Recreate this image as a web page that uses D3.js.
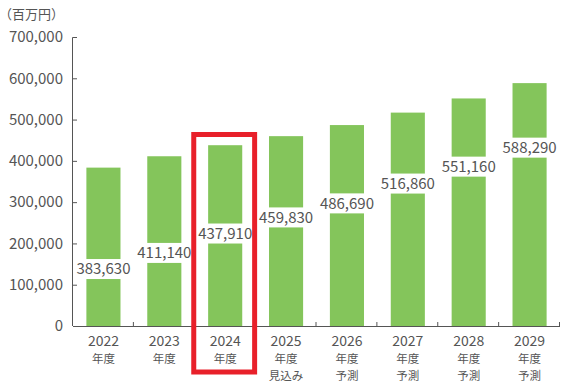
<!DOCTYPE html>
<html>
<head>
<meta charset="utf-8">
<script src="https://cdn.jsdelivr.net/npm/d3@7"></script>
<style>
	body { margin: 0; background: #fff; }
	text { font-family: "Noto Sans CJK JP", "Noto Sans", sans-serif; fill: #555; }
</style>
</head>
<body>
<script>
const years = ["2022", "2023", "2024", "2025", "2026", "2027", "2028", "2029"];
const subLabels = [["年度"], ["年度"], ["年度"], ["年度", "見込み"], ["年度", "予測"], ["年度", "予測"], ["年度", "予測"], ["年度", "予測"]];
const values = [383630, 411140, 437910, 459830, 486690, 516860, 551160, 588290];
// where the value label sits on each bar (in data units)
const labelAt = [138000, 177000, 224000, 263000, 297000, 345000, 386000, 432000];
const yTicks = [0, 100000, 200000, 300000, 400000, 500000, 600000, 700000];
const highlight = "2024";

const svgWidth = 568;
const svgHeight = 386;
const margin = { top: 37, right: 8, bottom: 60, left: 73 };
const width = svgWidth - margin.left - margin.right;
const height = svgHeight - margin.top - margin.bottom;

const svg = d3
	.select("body")
	.append("svg")
	.attr("width", svgWidth)
	.attr("height", svgHeight);

const g = svg.append("g").attr("transform", `translate(${margin.left},${margin.top})`);

//scales
const xScale = d3.scaleBand().domain(years).range([0, width]).paddingInner(0.44).paddingOuter(0.22);
const yScale = d3.scaleLinear().domain([0, 700000]).range([height, 0]);

// unit label
svg.append("text").attr("x", -1).attr("y", 19).attr("font-size", 13).text("（百万円）");

//bars
g.selectAll(".bar")
	.data(values)
	.enter()
	.append("rect")
	.attr("class", "bar")
	.attr("x", (d, i) => xScale(years[i]))
	.attr("y", (d) => yScale(d))
	.attr("width", xScale.bandwidth())
	.attr("height", (d) => height - yScale(d))
	.attr("fill", "#84c55b");

//value labels with white gap
const lab = g.selectAll(".lab").data(values).enter().append("g").attr("class", "lab");
lab.append("rect")
	.attr("x", (d, i) => xScale(years[i]) - 2)
	.attr("y", (d, i) => yScale(labelAt[i]) - 10)
	.attr("width", xScale.bandwidth() + 4)
	.attr("height", 20)
	.attr("fill", "#fff");
lab.append("text")
	.attr("x", (d, i) => xScale(years[i]) + xScale.bandwidth() / 2)
	.attr("y", (d, i) => yScale(labelAt[i]))
	.attr("dy", "0.36em")
	.attr("text-anchor", "middle")
	.attr("font-size", 15)
	.text((d) => d3.format(",")(d));

//y-axis
const yAxis = g.append("g").call(
	d3.axisLeft(yScale).tickValues(yTicks).tickFormat(d3.format(",")).tickSize(-4).tickPadding(10)
);
yAxis.selectAll("path, line").attr("stroke", "#555");
yAxis.select(".domain").attr("d", `M-0.5,${height}V0.5H4`);
yAxis.selectAll("text").attr("font-size", 15).attr("fill", "#555").attr("font-family", '"Noto Sans CJK JP", sans-serif');

//x-axis
const step = xScale.step();
const xAxis = g.append("g").attr("transform", `translate(0,${height})`);
xAxis.append("path").attr("d", `M0,0.5H${width}`).attr("stroke", "#555").attr("fill", "none");
xAxis.selectAll(".tk")
	.data(d3.range(1, years.length + 1))
	.enter()
	.append("line")
	.attr("x1", (d) => d * step - 0.5)
	.attr("x2", (d) => d * step - 0.5)
	.attr("y1", 0)
	.attr("y2", -4)
	.attr("stroke", "#555");

const xl = xAxis.selectAll(".xl").data(years).enter().append("g")
	.attr("transform", (d) => `translate(${xScale(d) + xScale.bandwidth() / 2},0)`);
xl.append("text").attr("y", 19.5).attr("text-anchor", "middle").attr("font-size", 14).text((d) => d);
xl.each(function (d, i) {
	d3.select(this).selectAll(".sub").data(subLabels[i]).enter().append("text")
		.attr("y", (s, j) => 37 + j * 17)
		.attr("text-anchor", "middle")
		.attr("font-size", 11.5)
		.text((s) => s);
});

//highlight box
g.append("rect")
	.attr("x", xScale(highlight) - xScale.step() * xScale.paddingInner() / 2 - 1)
	.attr("y", 134.5 - margin.top)
	.attr("width", step)
	.attr("height", 372 - 134.5)
	.attr("fill", "none")
	.attr("stroke", "#e8202a")
	.attr("stroke-width", 5);
</script>
</body>
</html>
